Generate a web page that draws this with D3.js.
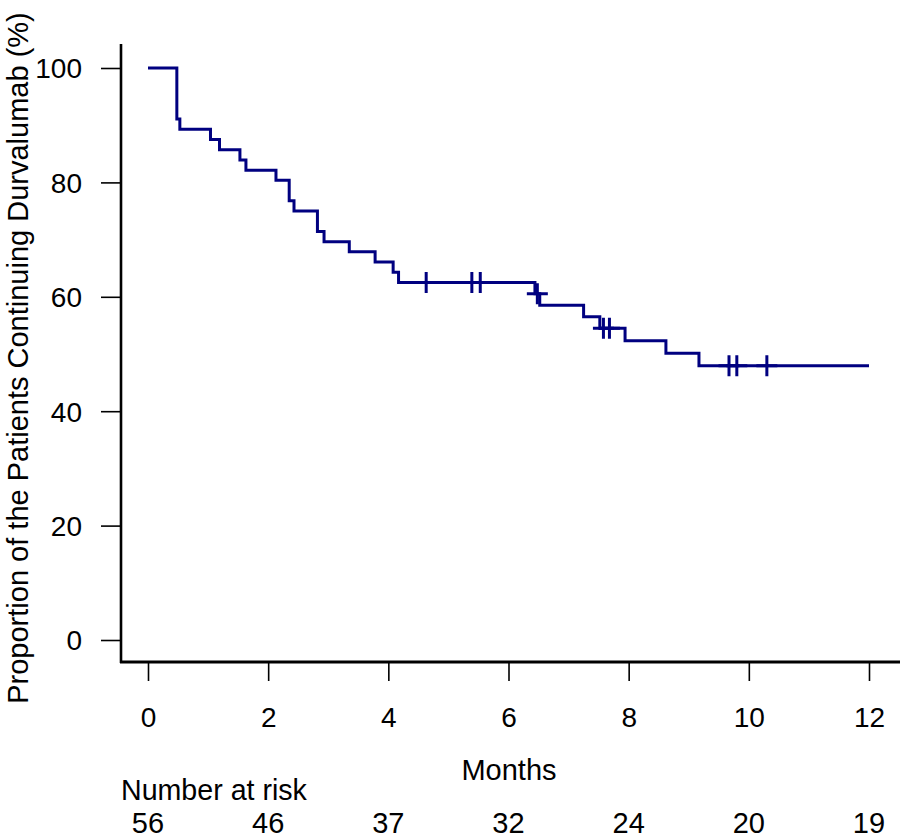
<!DOCTYPE html>
<html>
<head>
<meta charset="utf-8">
<script src="https://cdn.jsdelivr.net/npm/d3@7"></script>
<style>
  body { margin: 0; background: #fff; }
  text { font-family: "Liberation Sans", Arial, sans-serif; fill: #000; }
</style>
</head>
<body>
<svg id="chart" width="900" height="840"></svg>
<script>
// Kaplan-Meier: proportion continuing durvalumab

// step times (months) and survival (%) after each step
var stepTimes = [0, 0.48, 0.53, 1.04, 1.19, 1.53, 1.63, 2.13, 2.35, 2.43, 2.82, 2.93,
                 3.35, 3.78, 4.08, 4.17, 6.44, 6.52, 7.25, 7.52, 7.94, 8.62, 9.17];
var stepSurv = [100, 91.07, 89.29, 87.5, 85.71, 83.93, 82.14, 80.36, 76.79, 75.0, 71.43, 69.64,
                67.86, 66.07, 64.29, 62.5, 60.55, 58.53, 56.51, 54.49, 52.31, 50.13, 47.95];
var endTime = 12;

// censored observations (months)
var censorTimes = [4.63, 5.39, 5.53, 6.48, 7.58, 7.68, 9.67, 9.80, 10.30];

var xTicks = [0, 2, 4, 6, 8, 10, 12];
var yTicks = [0, 20, 40, 60, 80, 100];
var atRisk = [56, 46, 37, 32, 24, 20, 19];

var navy = "#000080";

var svg = d3.select("#chart");

var x = d3.scaleLinear().domain([0, 12]).range([148, 869]);
var y = d3.scaleLinear().domain([0, 100]).range([640, 68]);

// survival level at time t (step function lookup)
var survAt = function (t) {
  var i = d3.bisectRight(stepTimes, t) - 1;
  return stepSurv[Math.max(i, 0)];
};

///////////////////////////////////////////////////////////////////////////////
// Axes

var yAxis = svg.append("g")
  .attr("transform", "translate(121,0)")
  .call(d3.axisLeft(y).tickValues(yTicks).tickSize(20).tickPadding(19));

var xAxis = svg.append("g")
  .attr("transform", "translate(0,662)")
  .call(d3.axisBottom(x).tickValues(xTicks).tickSize(19).tickPadding(26));

[yAxis, xAxis].forEach(function (g) {
  g.select(".domain").remove();
  g.selectAll(".tick line").attr("stroke", "#000").attr("stroke-width", 1.6);
  g.selectAll(".tick text")
    .style("font-family", "'Liberation Sans', Arial, sans-serif")
    .style("font-size", "28px")
    .attr("fill", "#000");
});
yAxis.selectAll(".tick text").attr("dy", "0.35em");
xAxis.selectAll(".tick text").attr("dy", "0.71em");

// axis lines
svg.append("line")
  .attr("x1", 121).attr("x2", 121).attr("y1", 44).attr("y2", 663)
  .attr("stroke", "#000").attr("stroke-width", 2.6);
svg.append("line")
  .attr("x1", 120).attr("x2", 900).attr("y1", 662).attr("y2", 662)
  .attr("stroke", "#000").attr("stroke-width", 3);

///////////////////////////////////////////////////////////////////////////////
// Curve

var pts = stepTimes.map(function (t, i) { return [t, stepSurv[i]]; });
pts.push([endTime, stepSurv[stepSurv.length - 1]]);

var line = d3.line()
  .x(function (d) { return x(d[0]); })
  .y(function (d) { return y(d[1]); })
  .curve(d3.curveStepAfter);

svg.append("path")
  .datum(pts)
  .attr("d", line)
  .attr("fill", "none")
  .attr("stroke", navy)
  .attr("stroke-width", 3);

// censor marks "+"
var arm = 10.5;
svg.append("g").selectAll("path")
  .data(censorTimes)
  .enter().append("path")
  .attr("d", function (t) {
    var cx = x(t), cy = y(survAt(t));
    return "M" + (cx - arm) + "," + cy + "H" + (cx + arm) +
           "M" + cx + "," + (cy - arm) + "V" + (cy + arm);
  })
  .attr("fill", "none")
  .attr("stroke", navy)
  .attr("stroke-width", 3);

///////////////////////////////////////////////////////////////////////////////
// Labels

svg.append("text")
  .attr("x", 509).attr("y", 780)
  .attr("text-anchor", "middle")
  .style("font-size", "29px")
  .text("Months");

svg.append("text")
  .attr("transform", "translate(28,358) rotate(-90)")
  .attr("text-anchor", "middle")
  .style("font-size", "29px")
  .text("Proportion of the Patients Continuing Durvalumab (%)");

svg.append("text")
  .attr("x", 121).attr("y", 800)
  .style("font-size", "28.6px")
  .text("Number at risk");

svg.append("g").selectAll("text")
  .data(atRisk)
  .enter().append("text")
  .attr("x", function (d, i) { return x(xTicks[i]); })
  .attr("y", 833)
  .attr("text-anchor", "middle")
  .style("font-size", "29px")
  .text(function (d) { return d; });
</script>
</body>
</html>
